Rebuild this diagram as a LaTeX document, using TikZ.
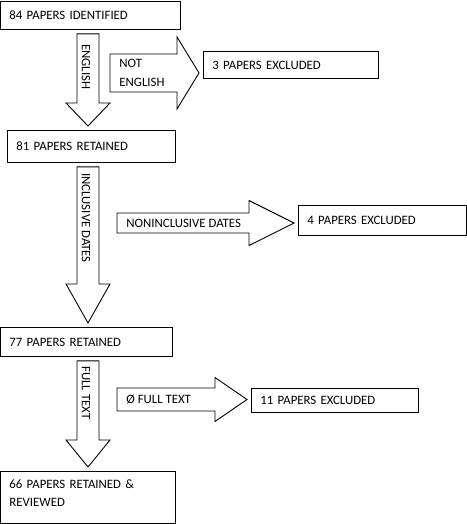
\documentclass[tikz,border=0pt]{standalone}
\usepackage{fontspec}
\setmainfont{Carlito}
\usetikzlibrary{calc}

\begin{document}
\begin{tikzpicture}[x=1pt, y=-1pt, line width=0.9pt,
    every node/.style={font=\fontsize{12.8}{18.5}\selectfont},
    box/.style={draw, rectangle, anchor=north west, inner xsep=9pt, inner ysep=0pt, align=left},
    lbl/.style={inner sep=0pt, align=left},
    ]
\useasboundingbox (0,0) rectangle (466,524);

% papers kept
\node[box, text width=162pt, minimum height=28pt] (b1) at (0,1) {84 PAPERS IDENTIFIED};
\node[box, text width=150pt, minimum height=32pt] (b2) at (7,130) {81 PAPERS RETAINED};
\node[box, text width=154pt, minimum height=29pt] (b3) at (0,327) {77 PAPERS RETAINED};
\node[box, text width=157pt, text height=17pt, text depth=35pt] (b4) at (0,471) {66 PAPERS RETAINED \&\\REVIEWED};
% papers excluded
\node[box, text width=157pt, minimum height=27pt] (e1) at (203,51) {3 PAPERS EXCLUDED};
\node[box, text width=150pt, minimum height=30pt] (e2) at (298,205) {4 PAPERS EXCLUDED};
\node[box, text width=149pt, minimum height=24pt] (e3) at (251,388) {11 PAPERS EXCLUDED};

\coordinate (ax) at (88,0);
\foreach \src/\dst/\hl/\txt/\gap [count=\i] in {b1/b2/23/ENGLISH/10, b2/b3/39/INCLUSIVE DATES/6, b3/b4/27/FULL TEXT/5}{
  \draw[fill=white]
    ($(ax |- \src.south)+(-11,4)$) -- ($(ax |- \dst.north)+(-11,-4-\hl)$)
    -- ($(ax |- \dst.north)+(-22,-4-\hl)$) -- ($(ax |- \dst.north)+(0,-4)$)
    -- ($(ax |- \dst.north)+(22,-4-\hl)$) -- ($(ax |- \dst.north)+(11,-4-\hl)$)
    -- ($(ax |- \src.south)+(11,4)$) -- cycle;
  \node[lbl, rotate=-90, anchor=west] (d\i) at ($(ax |- \src.south)+(-2,4+\gap)$) {\txt};
}

\foreach \dst/\sx/\cy/\hs/\hh/\hl/\txt [count=\i] in {e1/110/73/19/36/22/{NOT\\ENGLISH}, e2/117/223/10/22.5/45/NONINCLUSIVE DATES, e3/117/399.5/11.5/22/32/Ø FULL TEXT}{
  \coordinate (s\i) at (\sx,\cy);
  \draw[fill=white] ($(s\i)+(0,-\hs)$) -- ($(\dst.west |- s\i)+(-4-\hl,-\hs)$)
    -- ($(\dst.west |- s\i)+(-4-\hl,-\hh)$) -- ($(\dst.west |- s\i)+(-4,0)$)
    -- ($(\dst.west |- s\i)+(-4-\hl,\hh)$) -- ($(\dst.west |- s\i)+(-4-\hl,\hs)$)
    -- ($(s\i)+(0,\hs)$) -- cycle;
  \node[lbl, anchor=west] (r\i) at ($(s\i)+(9,0)$) {\txt};
}

\end{tikzpicture}
\end{document}
